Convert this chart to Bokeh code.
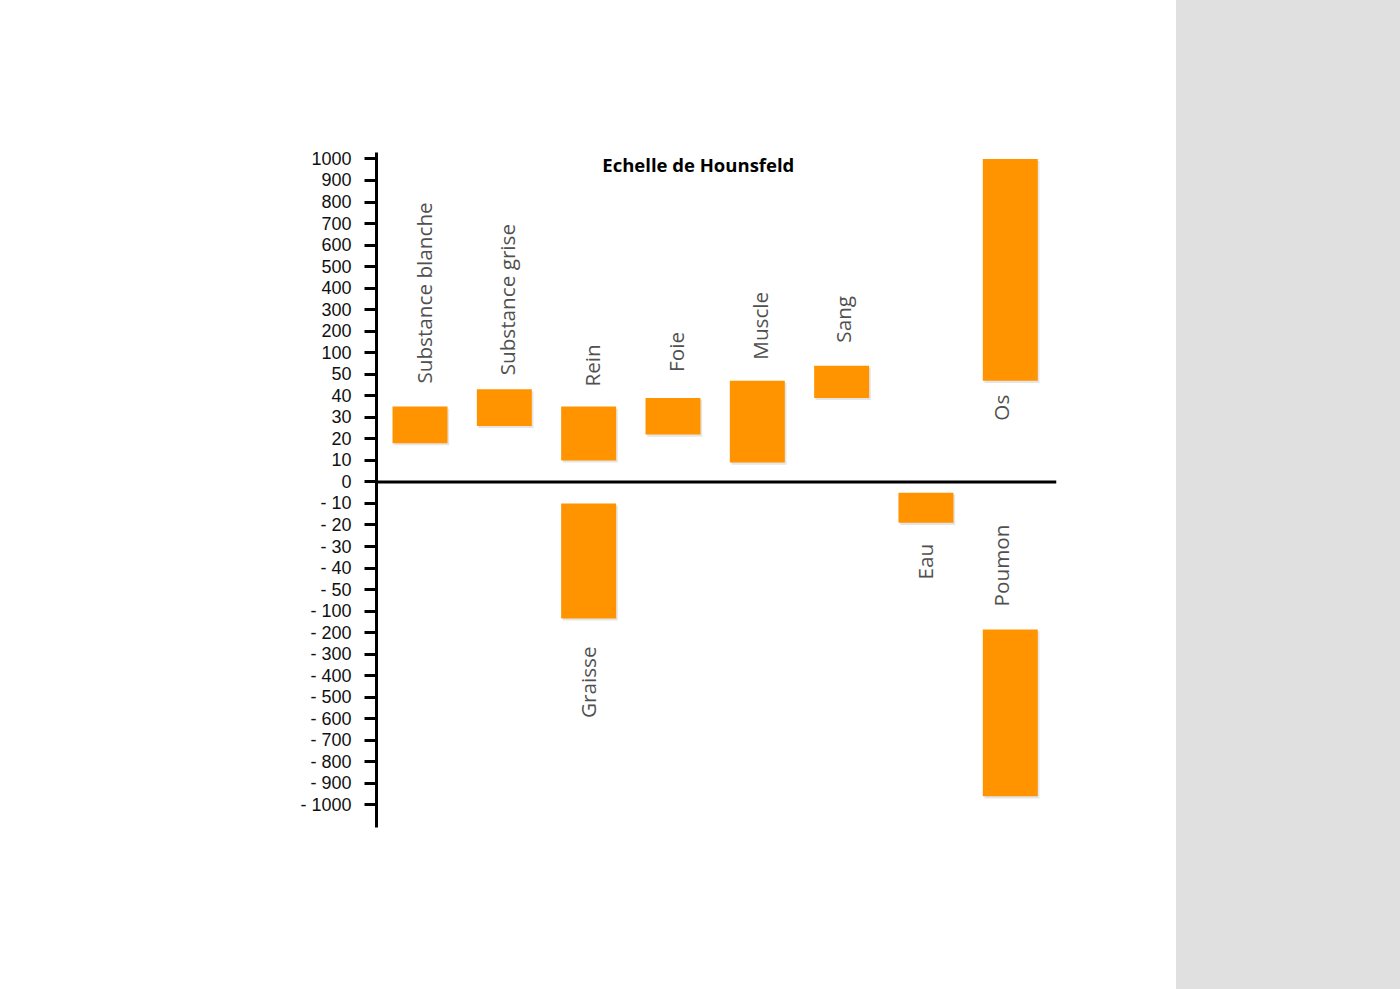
import numpy as np
from bokeh.plotting import figure
from bokeh.models import FixedTicker, Span, ColumnDataSource, Range1d, Div
from bokeh.layouts import row
from bokeh.core.properties import value
from bokeh.embed import file_html
from bokeh.resources import INLINE

# ---- data -------------------------------------------------------------
tissues = ["Substance blanche", "Substance grise", "Rein", "Graisse", "Foie",
           "Muscle", "Sang", "Eau", "Os", "Poumon"]
hu_low = [18, 26, 10, -134, 22, 9, 39, -19, 47, -960]
hu_high = [35, 43, 35, -10, 39, 47, 70, -5, 1000, -185]
slot = [0, 1, 2, 2, 3, 4, 5, 6, 7, 7]

tick_values = [-1000, -900, -800, -700, -600, -500, -400, -300, -200, -100,
               -50, -40, -30, -20, -10, 0, 10, 20, 30, 40, 50,
               100, 200, 300, 400, 500, 600, 700, 800, 900, 1000]
tick_labels = ["- 1000", "- 900", "- 800", "- 700", "- 600", "- 500", "- 400",
               "- 300", "- 200", "- 100", "- 50", "- 40", "- 30", "- 20", "- 10",
               "0", "10", "20", "30", "40", "50", "100", "200", "300", "400",
               "500", "600", "700", "800", "900", "1000"]
title_text = "Echelle de Hounsfeld"

# ---- layout / style ---------------------------------------------------
label_side = ["above", "above", "above", "below", "above", "above", "above",
              "below", "below", "above"]
label_gap = [23, 14, 20, 28, 26, 21, 23, 21, 14, 23]
label_dx = [4, 3, 3, -1, 3, 3, 1, -1, -9, -9]
ORANGE = "#FF9300"

# piecewise scale: every tick is one equal step
tick_pos = np.arange(len(tick_values)) - (len(tick_values) - 1) // 2


def to_pos(v):
    return np.interp(np.asarray(v, dtype=float), tick_values, tick_pos)


top_pos = to_pos(hu_high)
bot_pos = to_pos(hu_low)

W_MAIN, H = 1176, 989
p = figure(width=W_MAIN, height=H, output_backend="svg", toolbar_location=None,
           x_axis_type=None, x_range=Range1d(-0.516, 7.548),
           y_range=Range1d(-16.05, 15.30),
           min_border_left=376, min_border_right=120,
           min_border_top=152, min_border_bottom=162)
p.outline_line_color = None
p.grid.visible = False
p.background_fill_color = "white"
p.border_fill_color = "white"

ax = p.yaxis[0]
ax.ticker = FixedTicker(ticks=list(tick_pos))
ax.major_label_overrides = {int(k): s for k, s in zip(tick_pos, tick_labels)}
ax.axis_line_width = 3
ax.axis_line_color = "black"
ax.major_tick_line_width = 3
ax.major_tick_line_color = "black"
ax.major_tick_out = 12
ax.major_tick_in = 0
ax.minor_tick_line_color = None
ax.major_label_standoff = 13
ax.major_label_text_font = "Liberation Sans"
ax.major_label_text_font_size = "18px"
ax.major_label_text_color = "#111111"

src = ColumnDataSource(dict(
    x=slot, top=top_pos, bottom=bot_pos, name=tissues,
    sx=[s + 0.02 for s in slot], stop=top_pos - 0.1, sbot=bot_pos - 0.1,
))

# soft drop shadow
p.vbar(x="sx", top="stop", bottom="sbot", width=0.652, source=src,
       fill_color="black", fill_alpha=0.10, line_color=None)
p.vbar(x="x", top="top", bottom="bottom", width=0.652, source=src,
       fill_color=ORANGE, line_color=None)

p.add_layout(Span(location=0, dimension="width", line_color="black", line_width=3))

# category labels
for i, name in enumerate(tissues):
    if label_side[i] == "above":
        y, align, dy = top_pos[i], "left", -label_gap[i]
    else:
        y, align, dy = bot_pos[i], "right", label_gap[i]
    p.text(x=[slot[i]], y=[y], text=[name], angle=np.pi / 2,
           x_offset=label_dx[i], y_offset=dy,
           text_font=value("Open Sans"), text_font_size="20.7px",
           text_color="#505050", text_align=align, text_baseline="middle")

p.text(x=[3.30], y=[14.75], text=[title_text], text_font=value("Open Sans"),
       text_font_style="bold", text_font_size="18.5px", text_color="black",
       text_align="center", text_baseline="middle")

side = Div(text="", width=1400 - W_MAIN, height=H, margin=0,
           styles={"background-color": "#E0E0E0", "width": f"{1400 - W_MAIN}px",
                   "height": f"{H}px", "margin": "0", "padding": "0"})

layout = row(p, side, spacing=0)
open("out.html", "w").write(file_html(layout, INLINE))
